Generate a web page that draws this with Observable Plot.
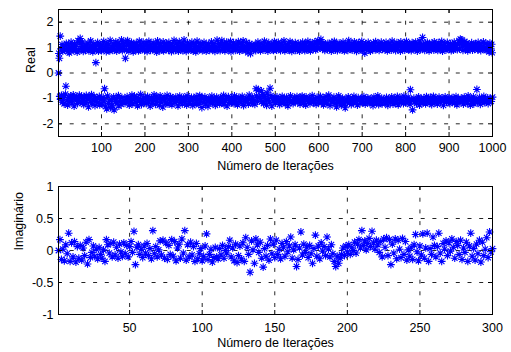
<!DOCTYPE html>
<html><head><meta charset="utf-8">
<script src="https://cdn.jsdelivr.net/npm/d3@7"></script>
<script src="https://cdn.jsdelivr.net/npm/@observablehq/plot@0.6"></script>
<style>
body{margin:0;background:#fff;}
#chart svg{display:block;}
</style></head><body><div id="chart"></div>
<script>
// Real part, iterations 1..1000
const realPart = [
0,0.77,0.58,-0.92,1.45,-1.04,0.95,-0.88,1.12,-1.15,0.86,1.03,-0.97,-1.21,0.91,1.08,-0.83,-0.52,1.17,-1.09,0.99,-1.26,0.84,1.13,-0.95,0.79,-1.12,1.02,-0.9,1.21,-1.03,-1.18,0.93,1.06,-0.86,0.88,-1.3,1.15,-0.99,0.97,1.1,-1.07,-0.94,0.82,-1.2,1.27,-1.01,0.9,-0.87,1.19,
1.36,-1.14,0.96,-0.91,1.04,1.22,-1.08,0.85,-1.24,0.98,-0.97,1.11,0.89,-1.16,-0.88,1.07,-1.02,0.94,1.18,-1.33,0.87,-0.95,1.01,-1.11,1.26,0.92,-0.85,-1.19,1.09,0.83,-1.06,1.14,-0.93,0.97,-1.28,1.05,0.41,-1.1,0.9,-0.98,1.2,-1.17,0.86,1.12,-0.92,-1.25,0.95,1.03,-1.05,0.88,
-1.22,1.1,0.93,-0.96,1.24,-1.13,-0.62,0.99,-1.31,1.06,0.84,-1.41,1.17,-0.9,0.91,-1.2,1.13,-1.09,0.87,1.28,-1.36,0.96,-1.04,1.02,-1.27,0.89,1.15,-0.94,-1.45,1.08,0.94,-1.12,1.22,-1.01,0.86,-1.18,1.04,1.19,-0.89,-1.3,0.92,1.11,-1.07,0.98,-1.23,1.3,-0.97,0.88,-1.15,1.05,
1.16,-1.08,0.95,-1.19,0.58,1.23,-1.03,0.9,-0.93,1.27,-1.14,1.08,0.86,-1.26,1.12,-0.99,0.94,-1.1,1.2,-0.87,1.01,-1.21,0.83,1.14,-1.05,-0.91,1.06,0.92,-1.17,1.18,-0.96,0.99,-1.29,1.09,0.87,-1.02,1.25,-1.12,0.9,-0.84,1.13,-1.24,1.03,0.96,-1.06,1.21,-0.95,-1.16,0.88,1.1,
-1.01,0.93,-1.2,1.15,0.85,-0.92,1.07,-1.13,1.24,-1.04,0.97,-1.3,0.89,1.12,-0.98,1.02,-1.18,0.91,1.19,-1.07,-0.86,1.05,0.95,-1.23,1.11,-0.94,0.82,-1.11,1.26,-1.0,0.98,1.09,-1.27,0.88,-0.9,1.16,-1.15,1.04,0.92,-1.05,-1.34,1.22,0.87,-0.97,1.13,-1.09,1.0,-1.19,0.94,1.17,
-0.88,1.06,-1.22,0.9,1.2,-1.03,0.96,-1.14,-0.93,1.1,0.84,-1.25,1.14,-0.99,0.93,-1.08,1.28,1.01,-1.17,0.89,-0.95,1.18,-1.1,0.97,1.07,-1.29,0.86,-1.02,1.23,-0.91,-1.16,1.03,0.92,-1.06,1.15,-1.21,0.88,1.11,-0.97,1.3,-1.12,0.95,-1.04,1.08,0.85,-1.26,-0.9,1.19,-1.0,0.99,
1.12,-1.11,0.94,-1.18,1.05,0.9,-0.96,1.21,-1.07,-1.28,0.87,1.16,-1.01,0.98,-1.2,1.09,0.83,-0.92,-1.14,1.25,0.96,-1.05,1.02,-1.24,0.91,-0.89,1.17,-1.1,1.07,-0.98,-1.36,0.88,1.13,-1.15,0.95,1.2,-1.03,-0.94,1.01,-1.22,0.86,1.1,-1.08,0.93,-1.31,1.14,-0.99,1.04,0.89,-1.17,
0.97,-1.06,1.22,-0.91,-1.19,0.92,1.08,-1.13,1.16,-1.02,0.85,-1.27,1.03,0.99,-0.95,1.29,-1.12,0.9,-1.09,1.18,1.06,-1.21,0.88,-0.97,1.12,-1.04,1.27,-1.16,0.94,1.0,-0.88,-1.23,1.15,0.87,-1.07,1.09,-1.01,1.21,-1.3,0.96,1.13,-0.93,0.91,-1.15,1.05,-1.1,1.24,0.84,-0.98,-1.18,
1.1,-1.05,0.95,1.19,-1.2,-0.9,1.02,0.89,-1.14,1.14,-1.0,0.93,-1.25,1.07,1.23,-0.96,-1.11,0.86,1.17,-1.03,0.98,-1.17,1.11,-0.92,0.91,1.26,-1.28,-1.06,0.97,1.04,-1.13,0.88,-0.99,1.2,-1.09,1.09,0.8,-1.22,0.94,-0.87,1.16,-1.04,0.76,1.0,-1.16,1.12,-0.95,-1.19,0.9,1.06,
-1.08,0.96,-1.23,1.13,0.88,-0.62,-0.9,1.08,-1.12,1.21,-0.66,0.93,-0.95,1.03,-1.0,0.87,1.17,-0.7,-1.14,0.99,-0.84,1.1,-1.2,0.91,1.25,-0.93,1.05,-1.06,0.94,-1.27,-0.78,1.14,0.86,-1.02,1.19,-1.15,0.97,-0.6,1.02,-0.89,1.12,-1.3,0.92,1.07,-1.1,0.89,-0.97,1.23,-1.04,1.0,
-1.18,1.15,0.9,-0.94,1.08,-1.11,1.2,-1.03,0.95,-1.24,1.03,0.88,-0.99,1.18,-1.16,-0.92,1.1,0.94,-1.09,1.26,-1.01,0.87,-1.21,1.12,0.98,-0.96,1.05,-1.13,-1.29,0.91,1.16,-1.05,0.93,1.23,-0.9,-1.17,1.01,0.85,-1.08,1.14,-1.2,0.96,1.09,-0.97,-1.12,1.19,0.89,-1.02,1.06,-0.93,
0.92,-1.15,1.17,-1.06,1.0,0.86,-1.22,1.11,-0.95,1.04,-1.1,-0.91,1.21,0.95,-1.18,1.07,-1.0,0.88,1.15,-1.26,-0.94,1.02,0.9,-1.07,1.24,-1.12,0.97,1.09,-0.99,-1.2,0.87,1.18,-1.04,1.05,-0.89,1.13,0.93,-1.16,-1.09,1.0,1.22,-1.01,0.91,-1.23,1.1,-0.96,0.96,1.27,-1.14,1.16,
-1.03,1.25,0.98,-0.92,1.32,-1.17,1.12,-1.08,0.94,1.19,-1.25,-0.98,1.06,0.89,-1.11,1.14,-0.93,1.01,-1.19,0.92,1.17,-1.05,-0.87,1.08,0.95,-1.28,1.03,-1.0,0.86,1.2,-1.13,-1.07,1.11,0.97,-0.95,1.24,-1.2,0.9,1.05,-1.02,-1.33,1.15,0.88,-1.1,1.0,-0.9,1.18,-1.16,0.93,1.09,
-1.06,-1.27,1.13,0.91,-0.99,1.21,-1.14,1.04,0.87,-1.21,-1.37,1.16,-1.03,0.96,1.1,-1.12,0.89,-0.94,1.27,1.02,-1.18,1.08,-1.09,0.94,-1.24,1.17,0.9,-1.0,1.05,-1.15,-0.92,1.22,0.98,-1.11,1.12,-1.04,0.85,1.14,-1.26,1.0,-0.97,1.19,0.92,-1.08,-1.19,1.07,0.95,-1.01,1.24,-1.13,
0.88,1.11,-1.16,-0.93,1.02,0.78,-1.22,1.15,-1.07,0.97,1.06,-1.12,-0.98,1.2,-1.05,0.9,1.13,-1.2,0.86,-1.01,1.09,-1.14,1.01,0.94,-1.28,1.18,-0.95,1.07,-1.1,0.91,1.23,-1.03,-1.17,0.99,1.04,-0.9,1.16,-1.24,0.89,-1.06,1.1,0.96,-1.13,1.21,-0.99,-1.21,0.93,1.08,-1.04,1.0,
1.14,-1.09,0.92,-1.18,1.2,-0.96,1.03,0.87,-1.27,1.12,-1.02,-1.12,0.95,1.17,-1.15,1.06,0.9,-0.94,1.25,-1.07,-1.22,1.01,0.97,-1.0,1.13,-1.19,0.88,1.09,-1.11,1.19,-0.92,0.93,-1.25,1.05,1.15,-1.05,-0.97,0.86,1.22,-1.16,1.0,-1.08,0.94,1.11,-1.2,-0.91,1.16,0.9,-1.13,1.07,
-1.02,1.24,-1.17,0.96,1.08,-0.95,0.91,-1.1,1.15,-1.23,-0.66,1.02,0.88,-1.06,1.19,-1.45,0.97,1.12,-0.99,1.04,-1.14,0.93,1.21,-1.08,-1.2,1.1,0.86,-1.01,1.16,-0.94,1.0,-1.26,1.26,0.92,-1.12,1.07,-1.05,0.95,1.4,-1.18,1.13,-0.98,-1.09,0.89,1.18,-1.21,1.05,-0.93,0.94,1.2,
-1.11,1.01,-1.03,0.87,1.14,-1.19,-0.96,1.09,0.93,-1.24,1.17,-1.07,1.04,-0.92,0.9,1.22,-1.15,-1.0,1.11,0.96,-1.13,1.06,-1.22,0.89,1.19,-1.04,-0.95,1.0,1.13,-1.17,0.92,-1.09,1.24,-1.0,0.86,1.08,-1.27,0.98,-1.06,1.15,-0.94,1.03,0.91,-1.16,-1.12,1.2,0.95,-1.02,1.1,-0.98,
0.94,-1.2,1.16,-1.08,0.88,1.05,-0.97,-1.14,1.12,0.9,-1.05,1.21,-1.18,0.97,1.09,-0.93,1.02,-1.25,0.92,1.14,-1.01,-1.1,1.27,0.95,-1.15,1.33,1.18,-0.99,1.3,-1.06,1.07,0.89,-1.22,1.11,-0.95,1.24,-1.12,0.93,-1.03,1.04,1.17,-1.19,0.87,-0.9,1.13,-1.07,1.0,0.96,-1.26,1.1,
-1.0,1.19,-1.13,0.9,1.06,-0.94,-1.21,1.12,0.93,-1.1,1.15,-1.04,1.01,-0.65,-1.16,0.91,1.2,-1.08,0.97,-0.96,1.09,-1.23,0.88,1.14,-1.02,1.03,-1.11,0.94,1.22,-0.92,-1.17,1.0,0.92,-1.06,1.16,-1.14,0.9,1.1,-0.98,-1.2,1.05,0.83,-1.09,1.18,-1.01,0.95,-1.12,1.13,0.8,-0.95
];
// Imaginary part, iterations 1..300
const imagPart = [
0,0.17,-0.14,0.02,-0.16,0.09,-0.05,0.27,-0.17,0.12,-0.1,0.14,-0.18,0.06,-0.12,0.08,-0.15,0.04,-0.08,0.13,-0.21,0.17,-0.11,-0.03,0.07,
-0.09,0.02,-0.13,0.05,-0.06,-0.12,0.01,-0.17,0.17,0.09,-0.04,0.11,-0.1,0.13,-0.07,0.05,-0.12,0.1,-0.02,-0.09,0.12,-0.05,0.08,-0.1,0.06,
0.14,-0.03,0.3,-0.22,0.05,0.09,-0.06,0.02,-0.11,0.07,-0.04,0.11,-0.08,0.03,-0.13,0.31,-0.05,0.06,-0.1,0.01,0.15,-0.07,0.16,-0.12,0.12,
-0.14,0.08,-0.06,0.17,-0.09,0.14,-0.16,0.04,0.1,-0.12,0.18,-0.04,0.31,-0.15,0.09,-0.1,0.13,-0.07,0.06,-0.17,0.11,-0.13,-0.05,0.03,-0.16,
-0.09,0.07,0.26,-0.14,-0.06,0.02,-0.18,-0.11,0.05,-0.1,-0.13,0.03,-0.07,0.08,-0.12,0.0,-0.04,0.06,0.16,-0.1,0.04,-0.16,0.1,-0.19,-0.08,
0.07,-0.13,0.12,-0.17,0.2,0.05,-0.06,-0.34,0.15,0.01,-0.2,0.18,0.09,-0.03,0.13,-0.12,-0.26,0.03,-0.09,0.08,-0.15,0.18,-0.05,0.1,-0.11,
0.16,-0.06,0.02,-0.13,0.11,0.05,-0.09,0.14,-0.02,0.07,0.21,-0.12,0.01,0.09,-0.25,-0.14,0.04,0.29,-0.07,0.1,-0.03,0.05,-0.11,0.08,-0.05,
-0.2,0.03,0.24,-0.09,0.07,-0.13,0.12,-0.01,0.06,-0.08,0.21,0.02,-0.1,0.09,-0.05,-0.17,-0.25,-0.09,-0.2,-0.12,-0.06,0.04,-0.08,0.07,-0.02,
0.09,-0.06,0.05,0.0,0.13,-0.04,0.1,0.17,0.04,0.31,0.08,0.15,0.01,0.11,0.19,0.06,0.3,0.12,0.02,0.16,0.09,-0.03,0.14,-0.1,0.18,
0.05,0.2,-0.08,0.17,-0.22,0.1,-0.04,0.18,-0.13,0.16,0.02,-0.11,0.19,-0.06,0.14,-0.15,0.01,-0.09,0.05,-0.14,0.09,0.25,-0.02,-0.16,0.07,
-0.07,0.26,-0.12,0.04,0.27,-0.17,0.03,-0.06,0.21,0.08,-0.1,0.06,0.27,-0.04,-0.17,0.11,0.02,0.15,-0.08,0.12,-0.01,0.18,0.05,-0.12,0.14,
0.08,-0.06,0.16,-0.14,0.04,-0.03,0.13,-0.17,0.07,0.27,-0.09,0.03,-0.15,0.1,-0.05,0.16,-0.18,0.13,-0.08,0.02,0.2,-0.11,0.29,-0.02,0.03
];
const realXTicks = [100,200,300,400,500,600,700,800,900,1000];
const realYTicks = [-2,-1,0,1,2];
const imagXTicks = [50,100,150,200,250,300];
const imagYTicks = [-1,-0.5,0,0.5,1];
const xTitle = "Número de Iterações";
const realLabel = "Real";
const imagLabel = "Imaginário";

// MATLAB-style '*' marker (plus + cross)
const asterisk = {
  draw(ctx, size) {
    const r = Math.sqrt(size / Math.PI), d = r * Math.SQRT1_2;
    ctx.moveTo(-r, 0); ctx.lineTo(r, 0);
    ctx.moveTo(0, -r); ctx.lineTo(0, r);
    ctx.moveTo(-d, -d); ctx.lineTo(d, d);
    ctx.moveTo(-d, d); ctx.lineTo(d, -d);
  }
};

function panel(o) {
  const W = 511, H = 176, mL = 58, mR = 19, tk = 4;
  const plotH = H - o.marginTop - o.marginBottom, plotW = W - mL - mR;
  const grid = {stroke: "#000", strokeOpacity: 0.85, strokeDasharray: "4,7.7", strokeWidth: 1};
  return Plot.plot({
    width: W, height: H, marginLeft: mL, marginRight: mR,
    marginTop: o.marginTop, marginBottom: o.marginBottom,
    x: {domain: o.xDomain},
    y: {domain: o.yDomain},
    style: {fontFamily: "'Liberation Sans', Arial, sans-serif", fontSize: "12.5px", color: "#000", background: "#fff", overflow: "visible"},
    marks: [
      Plot.gridX(o.xTicks, grid),
      Plot.gridY(o.yTicks, grid),
      Plot.dot(o.data, {x: (d, i) => i + 1, y: d => d, symbol: asterisk, r: 3.9, stroke: "#0000ff", fill: "none", strokeWidth: 1.1}),
      Plot.ruleX(o.xTicks, {stroke: "#000", insetTop: plotH - tk}),
      Plot.ruleX(o.xTicks, {stroke: "#000", insetBottom: plotH - tk}),
      Plot.ruleY(o.yTicks, {stroke: "#000", insetLeft: plotW - tk}),
      Plot.ruleY(o.yTicks, {stroke: "#000", insetRight: plotW - tk}),
      Plot.frame({stroke: "#000"}),
      Plot.axisX(o.xTicks, {tickSize: 0, tickPadding: o.xTickPad, tickFormat: d => String(d), label: null}),
      Plot.axisY(o.yTicks, {tickSize: 0, tickPadding: 5, tickFormat: d => String(d), label: null}),
      Plot.text([xTitle], {frameAnchor: "bottom", dy: o.xTitleDy, text: d => d}),
      Plot.text([o.yLabel], {frameAnchor: "left", dx: o.yLabelDx, rotate: -90, text: d => d})
    ]
  });
}

const root = document.getElementById("chart");
root.append(panel({data: realPart, xDomain: [1, 1000], yDomain: [-2.5, 2.5], xTicks: realXTicks, yTicks: realYTicks,
  yLabel: realLabel, marginTop: 9, marginBottom: 40, xTickPad: 7, xTitleDy: 33.5, yLabelDx: -28}));
root.append(panel({data: imagPart, xDomain: [1, 300], yDomain: [-1, 1], xTicks: imagXTicks, yTicks: imagYTicks,
  yLabel: imagLabel, marginTop: 10, marginBottom: 38, xTickPad: 8.5, xTitleDy: 32.5, yLabelDx: -40}));
</script></body></html>
